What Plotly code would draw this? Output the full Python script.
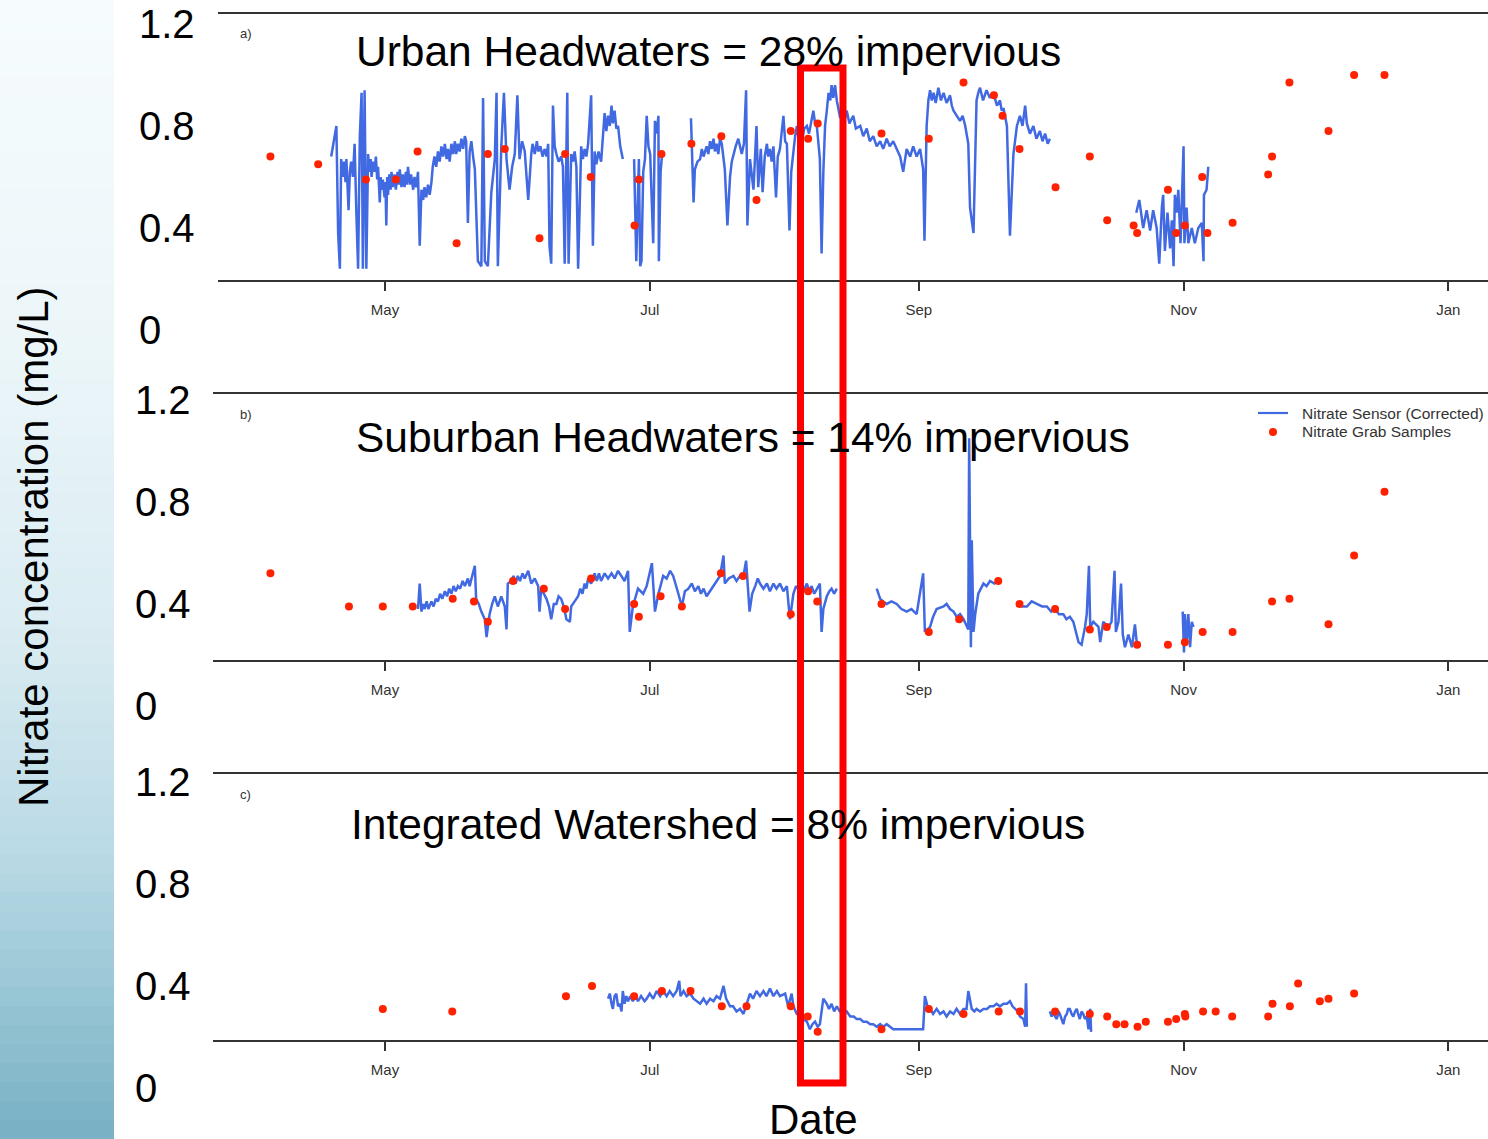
from datetime import datetime, timedelta
import plotly.graph_objects as go

# ---------------------------------------------------------------------------
# Data: day of year (2014) and nitrate concentration (mg/L)
# ---------------------------------------------------------------------------
tick_dates = ["2014-05-01", "2014-07-01", "2014-09-01", "2014-11-01", "2015-01-01"]
tick_labels = ["May", "Jul", "Sep", "Nov", "Jan"]
y_labels = [1.2, 0.8, 0.4, 0]
panel_titles = ["Urban Headwaters = 28% impervious",
                "Suburban Headwaters = 14% impervious",
                "Integrated Watershed = 8% impervious"]
panel_letters = ["a)", "b)", "c)"]

# grab samples
urban_grab_doy = [94.6, 105.6, 116.6, 123.5, 128.5, 137.5, 144.7, 148.6, 156.6, 162.5, 168.4,
                  178.5, 179.5, 184.7, 191.6, 198.5, 206.6, 214.5, 218.5, 220.7, 235.4, 246.3,
                  254.3, 261.3, 263.3, 267.2, 275.5, 283.4, 287.4, 293.5, 294.3, 301.4, 303.3,
                  305.3, 309.3, 310.5, 316.3, 324.5, 325.4, 329.4, 338.4, 344.3, 351.3]
urban_grab_no3 = [0.68, 0.65, 0.59, 0.59, 0.70, 0.34, 0.69, 0.71, 0.36, 0.69, 0.60,
                  0.41, 0.59, 0.69, 0.73, 0.76, 0.51, 0.78, 0.75, 0.81, 0.77, 0.75,
                  0.97, 0.92, 0.84, 0.71, 0.56, 0.68, 0.43, 0.41, 0.38, 0.55, 0.38,
                  0.41, 0.60, 0.38, 0.42, 0.61, 0.68, 0.97, 0.78, 1.00, 1.00]

sub_grab_doy = [94.6, 112.7, 120.5, 127.4, 136.6, 141.5, 144.7, 150.5, 157.6, 162.5, 168.5,
                178.4, 179.5, 184.5, 189.4, 198.4, 203.5, 214.5, 218.5, 220.6, 235.4, 246.3,
                253.3, 262.3, 267.2, 275.4, 283.4, 287.3, 294.3, 301.4, 305.3, 309.4, 316.3,
                325.4, 329.4, 338.4, 344.3, 351.3]
sub_grab_no3 = [0.52, 0.39, 0.39, 0.39, 0.42, 0.41, 0.33, 0.49, 0.46, 0.38, 0.50,
                0.40, 0.35, 0.43, 0.39, 0.52, 0.51, 0.36, 0.45, 0.41, 0.40, 0.29,
                0.34, 0.49, 0.40, 0.38, 0.30, 0.31, 0.24, 0.24, 0.25, 0.29, 0.29,
                0.41, 0.42, 0.32, 0.59, 0.84]

int_grab_doy = [120.5, 136.5, 162.7, 168.7, 178.4, 184.8, 191.4, 198.6, 204.3, 214.5, 218.4,
                220.7, 235.4, 246.3, 254.3, 262.4, 267.3, 275.4, 283.4, 287.4, 289.5, 291.4,
                294.4, 296.3, 301.4, 303.3, 305.3, 305.4, 309.5, 312.4, 316.2, 324.5, 325.5,
                329.5, 331.4, 336.4, 338.4, 344.3]
int_grab_no3 = [0.31, 0.30, 0.36, 0.40, 0.36, 0.38, 0.38, 0.32, 0.32, 0.32, 0.28,
                0.22, 0.23, 0.31, 0.29, 0.30, 0.30, 0.30, 0.29, 0.28, 0.25, 0.25,
                0.24, 0.26, 0.26, 0.27, 0.29, 0.28, 0.30, 0.30, 0.28, 0.28, 0.33,
                0.32, 0.41, 0.34, 0.35, 0.37]

# corrected sensor records as (doy, mg/L); None marks a data gap
urban_sensor = [
    (108.6, 0.68), (109.4, 0.77), (109.8, 0.80), (110.2, 0.38), (110.6, 0.24), (110.9, 0.67),
    (111.3, 0.60), (111.6, 0.66), (111.9, 0.58), (112.1, 0.67), (112.6, 0.47), (112.9, 0.62),
    (113.2, 0.66), (113.6, 0.60), (114.0, 0.73), (114.4, 0.46), (114.8, 0.24), (115.2, 0.76),
    (115.6, 0.93), (115.9, 0.24), (116.3, 0.94), (116.7, 0.24), (117.1, 0.69), (117.4, 0.62),
    (117.7, 0.67), (117.9, 0.60), (118.3, 0.66), (118.6, 0.62), (118.9, 0.68), (119.2, 0.59),
    (119.4, 0.64), (119.8, 0.50), (120.0, 0.60), (120.2, 0.55), (120.5, 0.59), (120.9, 0.52),
    (121.1, 0.58), (121.3, 0.41), (121.5, 0.60), (121.7, 0.53), (122.0, 0.61), (122.3, 0.55),
    (122.5, 0.62), (122.8, 0.56), (123.2, 0.61), (123.5, 0.55), (123.9, 0.62), (124.2, 0.57),
    (124.4, 0.63), (124.8, 0.56), (125.1, 0.61), (125.5, 0.56), (125.8, 0.62), (126.0, 0.57),
    (126.3, 0.64), (126.7, 0.57), (127.0, 0.61), (127.5, 0.55), (127.8, 0.60), (128.2, 0.56),
    (128.6, 0.62), (129.0, 0.33), (129.4, 0.55), (129.8, 0.51), (130.1, 0.56), (130.5, 0.52),
    (130.9, 0.57), (131.3, 0.53), (131.7, 0.58), (132.0, 0.64), (132.4, 0.68), (132.8, 0.64),
    (133.2, 0.70), (133.6, 0.66), (134.0, 0.72), (134.4, 0.68), (134.8, 0.73), (135.2, 0.67),
    (135.5, 0.71), (135.9, 0.66), (136.3, 0.73), (136.7, 0.69), (137.1, 0.74), (137.4, 0.69),
    (137.8, 0.73), (138.2, 0.70), (138.6, 0.75), (139.0, 0.71), (139.4, 0.76), (139.7, 0.74),
    (140.1, 0.42), (140.5, 0.70), (140.9, 0.74), (141.3, 0.68), (141.7, 0.63), (142.4, 0.27),
    (143.2, 0.25), (143.6, 0.91), (144.0, 0.27), (144.7, 0.25), (145.5, 0.54), (146.3, 0.67),
    (146.7, 0.93), (147.0, 0.25), (147.8, 0.72), (148.4, 0.93), (149.0, 0.67), (149.7, 0.55),
    (150.3, 0.64), (150.9, 0.69), (151.5, 0.92), (152.0, 0.67), (152.6, 0.74), (153.2, 0.70),
    (154.0, 0.51), (154.7, 0.69), (155.0, 0.73), (155.5, 0.69), (156.0, 0.74), (156.3, 0.70),
    (156.8, 0.72), (157.3, 0.68), (157.8, 0.71), (158.2, 0.68), (158.6, 0.73), (158.9, 0.33),
    (159.3, 0.26), (159.7, 0.88), (160.1, 0.72), (160.5, 0.69), (161.0, 0.66), (161.6, 0.68),
    (162.0, 0.64), (162.4, 0.26), (163.0, 0.93), (163.3, 0.26), (163.9, 0.69), (164.3, 0.66),
    (164.7, 0.70), (165.1, 0.64), (165.5, 0.24), (166.2, 0.72), (166.6, 0.67), (167.0, 0.71),
    (167.4, 0.68), (167.8, 0.73), (168.5, 0.92), (168.9, 0.33), (169.3, 0.70), (169.7, 0.65),
    (170.2, 0.70), (170.8, 0.66), (171.2, 0.74), (171.6, 0.85), (172.0, 0.78), (172.4, 0.84),
    (172.8, 0.80), (173.2, 0.88), (173.5, 0.81), (173.9, 0.86), (174.3, 0.79), (174.7, 0.80),
    (175.2, 0.72), (175.8, 0.67), None,
    (178.4, 0.67), (178.9, 0.27), (179.5, 0.67), (179.8, 0.25), (180.1, 0.27), (180.5, 0.62),
    (180.9, 0.67), (181.3, 0.84), (181.7, 0.72), (182.1, 0.69), (182.8, 0.34), (183.2, 0.82),
    (183.6, 0.77), (184.0, 0.84), (184.1, 0.27), (184.5, 0.62), (184.8, 0.68), None,
    (191.5, 0.83), (192.1, 0.50), (192.4, 0.63), (193.0, 0.66), (193.6, 0.67), (194.0, 0.71),
    (194.4, 0.68), (195.1, 0.72), (195.5, 0.69), (195.9, 0.74), (196.3, 0.71), (196.7, 0.75),
    (197.0, 0.70), (197.4, 0.73), (197.8, 0.69), (198.2, 0.75), (198.6, 0.73), (199.3, 0.63),
    (199.9, 0.41), (200.5, 0.60), (200.9, 0.66), (201.3, 0.69), (201.8, 0.72), (202.4, 0.75),
    (203.2, 0.69), (203.7, 0.73), (204.2, 0.94), (204.5, 0.41), (205.1, 0.67), (205.9, 0.55),
    (206.6, 0.80), (207.0, 0.56), (207.6, 0.71), (208.0, 0.54), (208.5, 0.68), (209.0, 0.73),
    (209.3, 0.68), (209.7, 0.71), (210.1, 0.66), (210.5, 0.72), (211.1, 0.52), (211.5, 0.68),
    (212.0, 0.71), (212.8, 0.84), (213.2, 0.74), (213.6, 0.73), (214.2, 0.39), (214.6, 0.62),
    (215.1, 0.71), (215.5, 0.76), (215.9, 0.80), (216.3, 0.75), (216.6, 0.77), (217.1, 0.74),
    (217.6, 0.79), (218.2, 0.80), (218.7, 0.77), (219.2, 0.82), (219.7, 0.86), (220.1, 0.81),
    (220.5, 0.80), (221.2, 0.67), (221.6, 0.30), (222.0, 0.62), (222.4, 0.80), (222.8, 0.86),
    (223.2, 0.93), (223.6, 0.90), (223.9, 0.96), (224.3, 0.91), (224.7, 0.96), (225.1, 0.90),
    (225.5, 0.86), (225.9, 0.83), (226.2, 0.85), (226.8, 0.82), (227.4, 0.86), (228.0, 0.81),
    (228.9, 0.84), (229.5, 0.79), (230.5, 0.80), (231.2, 0.76), (232.0, 0.79), (232.7, 0.74),
    (233.5, 0.76), (234.3, 0.72), (235.1, 0.74), (235.8, 0.71), (236.6, 0.75), (237.3, 0.72),
    (238.1, 0.74), (238.9, 0.71), (239.7, 0.68), (240.4, 0.62), (241.2, 0.71), (242.0, 0.68),
    (242.7, 0.72), (243.5, 0.68), (244.3, 0.71), (245.0, 0.63), (245.3, 0.35), (245.8, 0.80),
    (246.2, 0.90), (246.6, 0.94), (247.0, 0.90), (247.4, 0.93), (247.9, 0.89), (248.5, 0.95),
    (249.1, 0.90), (249.7, 0.93), (250.4, 0.89), (251.2, 0.92), (251.6, 0.88), (252.0, 0.86),
    (252.7, 0.84), (253.5, 0.82), (254.1, 0.84), (254.7, 0.80), (255.4, 0.73), (255.8, 0.48),
    (256.6, 0.38), (257.0, 0.73), (257.3, 0.90), (257.7, 0.93), (258.1, 0.95), (258.8, 0.90),
    (259.6, 0.94), (260.4, 0.91), (261.2, 0.93), (262.0, 0.88), (262.7, 0.90), (263.1, 0.86),
    (263.5, 0.87), (264.3, 0.80), (265.0, 0.37), (265.8, 0.69), (266.6, 0.80), (267.3, 0.84),
    (267.9, 0.80), (268.5, 0.88), (268.9, 0.81), (269.6, 0.77), (270.4, 0.80), (271.1, 0.75),
    (271.9, 0.78), (272.5, 0.74), (273.1, 0.77), (273.7, 0.73), (274.2, 0.75), None,
    (294.1, 0.46), (294.8, 0.51), (295.7, 0.40), (296.5, 0.47), (297.3, 0.39), (298.0, 0.47),
    (298.8, 0.40), (299.4, 0.26), (300.0, 0.48), (300.3, 0.53), (300.7, 0.31), (301.3, 0.46),
    (301.9, 0.32), (302.3, 0.43), (302.7, 0.25), (303.0, 0.53), (303.4, 0.46), (303.8, 0.55),
    (304.3, 0.34), (305.0, 0.72), (305.2, 0.34), (305.7, 0.48), (306.1, 0.34), (306.9, 0.40),
    (307.6, 0.34), (308.4, 0.40), (309.2, 0.42), (309.6, 0.27), (309.7, 0.53), (310.3, 0.55),
    (310.7, 0.64),
]

sub_sensor = [
    (128.6, 0.38), (129.0, 0.48), (129.4, 0.37), (129.8, 0.40), (130.1, 0.38), (130.6, 0.41),
    (131.0, 0.38), (131.7, 0.41), (132.2, 0.39), (132.7, 0.42), (133.2, 0.41), (133.7, 0.44),
    (134.2, 0.42), (134.8, 0.45), (135.3, 0.43), (135.8, 0.46), (136.3, 0.44), (136.8, 0.47),
    (137.3, 0.45), (137.8, 0.47), (138.3, 0.46), (138.9, 0.49), (139.4, 0.47), (140.1, 0.50),
    (140.5, 0.47), (141.7, 0.55), (142.0, 0.42), (142.6, 0.40), (143.2, 0.37), (144.0, 0.34),
    (144.4, 0.27), (145.1, 0.36), (145.7, 0.40), (146.3, 0.43), (147.0, 0.39), (147.8, 0.43),
    (148.6, 0.39), (149.0, 0.30), (149.3, 0.48), (150.1, 0.49), (150.6, 0.51), (151.1, 0.48),
    (151.6, 0.51), (152.1, 0.49), (152.7, 0.52), (153.2, 0.50), (154.0, 0.53), (154.7, 0.48),
    (155.5, 0.50), (156.3, 0.47), (156.6, 0.37), (157.0, 0.46), (157.6, 0.44), (158.2, 0.42),
    (158.8, 0.39), (159.3, 0.34), (159.9, 0.40), (160.5, 0.40), (161.0, 0.43), (161.6, 0.42),
    (162.2, 0.39), (162.8, 0.34), (163.6, 0.33), (163.9, 0.39), (164.7, 0.41), (165.5, 0.43),
    (166.0, 0.46), (166.5, 0.44), (167.0, 0.48), (167.4, 0.46), (167.8, 0.50), (168.5, 0.48),
    (169.3, 0.52), (169.8, 0.49), (170.3, 0.52), (170.8, 0.49), (171.6, 0.52), (172.4, 0.50),
    (173.2, 0.52), (173.9, 0.50), (174.7, 0.53), (175.5, 0.51), (176.2, 0.49), (177.0, 0.53),
    (177.4, 0.29), (178.1, 0.39), (178.7, 0.43), (179.3, 0.46), (180.5, 0.44), (181.3, 0.47),
    (182.5, 0.56), (183.2, 0.37), (184.0, 0.44), (184.6, 0.48), (185.1, 0.51), (185.9, 0.50),
    (186.7, 0.53), (187.4, 0.51), (188.0, 0.47), (188.6, 0.44), (189.4, 0.39), (190.1, 0.45),
    (190.9, 0.46), (191.7, 0.48), (192.4, 0.45), (193.2, 0.47), (193.8, 0.44), (194.4, 0.46),
    (195.1, 0.43), (195.9, 0.45), (196.6, 0.47), (197.4, 0.49), (198.2, 0.51), (199.0, 0.59),
    (199.3, 0.48), (200.2, 0.50), (201.3, 0.51), (202.0, 0.49), (202.8, 0.51), (203.5, 0.50),
    (204.2, 0.57), (205.0, 0.37), (205.6, 0.44), (206.3, 0.47), (206.9, 0.50), (207.4, 0.48),
    (208.2, 0.46), (209.0, 0.48), (209.7, 0.45), (210.5, 0.48), (211.2, 0.46), (212.0, 0.48),
    (212.8, 0.45), (213.6, 0.47), (214.3, 0.34), (215.1, 0.44), (215.7, 0.47), (216.2, 0.46),
    (216.8, 0.48), (217.4, 0.45), (218.2, 0.48), (218.8, 0.45), (219.3, 0.47), (219.9, 0.44),
    (220.5, 0.46), (221.2, 0.48), (221.6, 0.29), (222.0, 0.38), (222.8, 0.43), (223.4, 0.45),
    (223.9, 0.46), (224.5, 0.44), (225.1, 0.46), None,
    (234.3, 0.46), (235.1, 0.42), (235.8, 0.41), (236.6, 0.40), (237.7, 0.41), (238.9, 0.40),
    (240.0, 0.38), (241.2, 0.37), (242.3, 0.38), (243.5, 0.36), (245.0, 0.52), (245.4, 0.29),
    (246.6, 0.31), (247.3, 0.35), (248.1, 0.38), (249.7, 0.39), (250.4, 0.40), (251.2, 0.38),
    (252.0, 0.37), (252.7, 0.35), (253.5, 0.36), (254.3, 0.34), (255.4, 0.30), (255.6, 1.05),
    (256.0, 0.23), (256.2, 0.65), (256.6, 0.29), (257.0, 0.36), (257.7, 0.44), (258.3, 0.46),
    (258.9, 0.48), (259.6, 0.47), (260.4, 0.49), (261.4, 0.48), (262.3, 0.49), None,
    (266.9, 0.40), (267.9, 0.39), (268.9, 0.39), (270.0, 0.41), (271.2, 0.40), (272.4, 0.39),
    (273.5, 0.39), (274.5, 0.37), (275.4, 0.38), (276.3, 0.36), (277.3, 0.36), (278.0, 0.34),
    (278.8, 0.35), (279.6, 0.33), (280.8, 0.25), (281.5, 0.24), (282.3, 0.31), (282.7, 0.36),
    (283.2, 0.55), (283.5, 0.31), (284.2, 0.33), (285.4, 0.31), (285.8, 0.25), (286.5, 0.33),
    (287.7, 0.31), (288.4, 0.33), (289.1, 0.53), (289.4, 0.29), (290.0, 0.33), (290.6, 0.48),
    (291.0, 0.28), (291.5, 0.23), (292.3, 0.28), (293.1, 0.23), (293.8, 0.32), (294.2, 0.25),
    None,
    (304.8, 0.37), (305.1, 0.21), (305.3, 0.36), (305.7, 0.25), (306.1, 0.36), (306.5, 0.23),
    (306.9, 0.33), (307.3, 0.31),
]

int_sensor = [
    (172.4, 0.35), (172.8, 0.37), (173.2, 0.33), (173.5, 0.31), (173.9, 0.36), (174.3, 0.37),
    (174.7, 0.32), (175.1, 0.33), (175.5, 0.30), (175.8, 0.38), (176.2, 0.33), (176.6, 0.36),
    (177.0, 0.34), (177.5, 0.36), (178.1, 0.34), (178.7, 0.36), (179.3, 0.34), (180.0, 0.36),
    (180.8, 0.34), (181.3, 0.35), (182.0, 0.37), (182.8, 0.35), (183.6, 0.38), (184.4, 0.36),
    (185.1, 0.38), (185.9, 0.36), (186.6, 0.38), (187.4, 0.36), (188.2, 0.38), (188.8, 0.42),
    (189.1, 0.36), (189.8, 0.38), (190.5, 0.36), (191.3, 0.37), (192.1, 0.35), (192.8, 0.34),
    (193.6, 0.33), (194.4, 0.35), (195.1, 0.33), (195.9, 0.35), (196.7, 0.34), (197.4, 0.36),
    (198.2, 0.35), (199.0, 0.40), (199.6, 0.35), (200.5, 0.32), (201.2, 0.32), (202.0, 0.30),
    (202.8, 0.31), (203.6, 0.29), (204.3, 0.33), (205.1, 0.37), (205.8, 0.35), (206.6, 0.38),
    (207.4, 0.36), (208.2, 0.38), (208.9, 0.36), (209.7, 0.39), (210.5, 0.36), (211.3, 0.38),
    (212.0, 0.36), (213.2, 0.37), (213.9, 0.32), (214.7, 0.37), (215.1, 0.32), (215.9, 0.29),
    (216.6, 0.29), (217.4, 0.27), (218.2, 0.26), (218.9, 0.23), (219.5, 0.25), (220.1, 0.26),
    (220.7, 0.24), (221.2, 0.25), (222.0, 0.35), (222.8, 0.33), (223.3, 0.31), (223.9, 0.33),
    (224.5, 0.30), (225.1, 0.32), (225.8, 0.30), (226.6, 0.29), (227.4, 0.30), (228.2, 0.28),
    (229.0, 0.28), (229.7, 0.27), (230.5, 0.27), (231.2, 0.26), (232.0, 0.26), (232.8, 0.25),
    (233.5, 0.25), (234.3, 0.24), (235.1, 0.25), (235.8, 0.24), (236.6, 0.25), (237.3, 0.24),
    (238.1, 0.23), (239.6, 0.23), (241.2, 0.23), (242.4, 0.23), (243.5, 0.23), (245.0, 0.23),
    (245.4, 0.36), (246.0, 0.32), (246.6, 0.31), (247.3, 0.29), (248.1, 0.31), (248.9, 0.29),
    (249.7, 0.30), (250.4, 0.28), (251.2, 0.30), (252.0, 0.29), (252.7, 0.31), (253.5, 0.29),
    (254.3, 0.31), (255.0, 0.31), (255.4, 0.38), (256.2, 0.31), (256.8, 0.30), (257.3, 0.31),
    (258.1, 0.30), (258.9, 0.31), (259.7, 0.31), (260.4, 0.32), (261.2, 0.32), (261.9, 0.33),
    (262.7, 0.32), (263.5, 0.33), (264.3, 0.33), (265.0, 0.34), (265.6, 0.32), (266.2, 0.31),
    (266.8, 0.30), (267.3, 0.28), (268.1, 0.27), (268.5, 0.24), (268.7, 0.41), (268.9, 0.24),
    None,
    (274.2, 0.30), (274.6, 0.28), (275.0, 0.30), (275.4, 0.28), (275.8, 0.27), (276.2, 0.30),
    (276.5, 0.29), (276.9, 0.27), (277.3, 0.25), (277.7, 0.28), (278.1, 0.29), (278.4, 0.31),
    (278.8, 0.31), (279.2, 0.29), (279.6, 0.28), (280.0, 0.30), (280.4, 0.31), (280.7, 0.29),
    (281.1, 0.27), (281.5, 0.30), (281.9, 0.29), (282.3, 0.27), (282.7, 0.28), (283.1, 0.23),
    (283.5, 0.31), (283.7, 0.22),
]

# ---------------------------------------------------------------------------
# Page geometry (pixels) and styling
# ---------------------------------------------------------------------------
W, H = 1488, 1139
FONT = "Liberation Sans, Arial, Helvetica, sans-serif"
SENSOR_COLOR = "#4169e1"
GRAB_COLOR = "#ff2200"
AXIS_COLOR = "#333333"

BASE = datetime(2013, 12, 31)


def to_dt(doy):
    return None if doy is None else BASE + timedelta(days=doy)


def split(series):
    xs, ys = [], []
    for item in series:
        if item is None:
            xs.append(None)
            ys.append(None)
        else:
            xs.append(to_dt(item[0]))
            ys.append(item[1])
    return xs, ys


def px(x):
    return x / W


def py(y):
    return 1 - y / H


# per panel: left edge px, top px, bottom px, x-range (doy), y-range, label x px, title x/y px
panels = [
    dict(left=218, top=14, bottom=280, xr=(82.52, 375.15), yr=(0.196, 1.239),
         lab_x=137, title_x=354, title_y=52, letter_y=34,
         sensor=urban_sensor, gdoy=urban_grab_doy, gno3=urban_grab_no3),
    dict(left=213, top=394, bottom=660, xr=(81.37, 375.15), yr=(0.180, 1.224),
         lab_x=133, title_x=354, title_y=437, letter_y=414,
         sensor=sub_sensor, gdoy=sub_grab_doy, gno3=sub_grab_no3),
    dict(left=213, top=774, bottom=1040, xr=(81.37, 375.15), yr=(0.188, 1.231),
         lab_x=133, title_x=349, title_y=824, letter_y=795,
         sensor=int_sensor, gdoy=int_grab_doy, gno3=int_grab_no3),
]

fig = go.Figure()
layout = dict(
    width=W, height=H,
    margin=dict(l=0, r=0, t=0, b=0),
    paper_bgcolor="white", plot_bgcolor="white",
    font=dict(family=FONT, color="black"),
    showlegend=False,
)

annotations = []
shapes = []

# soft gradient strip along the left edge of the slide
stops = [(0.0, (246, 252, 253)), (0.30, (236, 246, 249)), (0.55, (218, 236, 242)),
         (0.75, (186, 218, 229)), (0.88, (150, 197, 212)), (1.0, (120, 176, 195))]
n_bands = 60
for i in range(n_bands):
    t = (i + 0.5) / n_bands
    for (t0, c0), (t1, c1) in zip(stops[:-1], stops[1:]):
        if t0 <= t <= t1:
            f = (t - t0) / (t1 - t0)
            rgb = tuple(round(a + (b - a) * f) for a, b in zip(c0, c1))
            break
    shapes.append(dict(type="rect", xref="paper", yref="paper", layer="below",
                       x0=0, x1=px(114), y0=max(0, 1 - (i + 1) / n_bands - 0.002),
                       y1=1 - i / n_bands,
                       line=dict(width=0), fillcolor="rgb(%d,%d,%d)" % rgb))

for k, p in enumerate(panels):
    sfx = "" if k == 0 else str(k + 1)
    xa, ya = "x" + sfx, "y" + sfx
    dom = [py(p["bottom"]), py(p["top"])]
    sx, sy = split(p["sensor"])
    fig.add_trace(go.Scatter(
        x=sx, y=sy, mode="lines", xaxis=xa, yaxis=ya,
        line=dict(color=SENSOR_COLOR, width=2.5), connectgaps=False,
        name="Nitrate Sensor (Corrected)"))
    fig.add_trace(go.Scatter(
        x=[to_dt(d) for d in p["gdoy"]], y=p["gno3"], mode="markers",
        xaxis=xa, yaxis=ya, marker=dict(color=GRAB_COLOR, size=8),
        name="Nitrate Grab Samples"))

    layout["xaxis" + sfx] = dict(
        domain=[px(p["left"]), 1], anchor=ya, type="date",
        range=[to_dt(p["xr"][0]), to_dt(p["xr"][1])],
        tickmode="array", tickvals=tick_dates, ticktext=tick_labels,
        showline=True, mirror=True, linecolor=AXIS_COLOR, linewidth=2,
        ticks="outside", ticklen=9, tickwidth=1.5, tickcolor=AXIS_COLOR,
        ticklabelstandoff=6,
        tickfont=dict(size=15, color=AXIS_COLOR, family=FONT),
        showgrid=False, zeroline=False,
    )
    layout["yaxis" + sfx] = dict(
        domain=dom, anchor=xa,
        range=list(p["yr"]), visible=False, showgrid=False, zeroline=False,
    )

    # concentration labels, placed through the panel's own value scale
    # (the lowest one sits below the plotted range, so paper coordinates are used)
    r0, r1 = p["yr"]
    for v in y_labels:
        yp = dom[0] + (v - r0) / (r1 - r0) * (dom[1] - dom[0])
        annotations.append(dict(
            text="0" if v == 0 else "%.1f" % v, xref="paper", yref="paper",
            x=px(p["lab_x"]), y=yp, xanchor="left", yanchor="middle",
            showarrow=False, font=dict(size=40, color="black", family=FONT)))

    annotations.append(dict(
        text=panel_titles[k], xref="paper", yref="paper",
        x=px(p["title_x"]), y=py(p["title_y"]), xanchor="left", yanchor="middle",
        showarrow=False, font=dict(size=42.5, color="black", family=FONT)))
    annotations.append(dict(
        text=panel_letters[k], xref="paper", yref="paper",
        x=px(238), y=py(p["letter_y"]), xanchor="left", yanchor="middle",
        showarrow=False, font=dict(size=13, color=AXIS_COLOR, family=FONT)))

# key for the two series, drawn in the suburban panel
shapes.append(dict(type="line", xref="paper", yref="paper",
                   x0=px(1258), x1=px(1288), y0=py(413), y1=py(413),
                   line=dict(color=SENSOR_COLOR, width=2.2)))
shapes.append(dict(type="circle", xref="paper", yref="paper",
                   x0=px(1269), x1=px(1277), y0=py(436), y1=py(428),
                   line=dict(width=0), fillcolor=GRAB_COLOR))
for label, yy in [("Nitrate Sensor (Corrected)", 413), ("Nitrate Grab Samples", 432)]:
    annotations.append(dict(
        text=label, xref="paper", yref="paper", x=px(1300), y=py(yy),
        xanchor="left", yanchor="middle", showarrow=False,
        font=dict(size=15.5, color=AXIS_COLOR, family=FONT)))

# axis titles
annotations.append(dict(
    text="Nitrate concentration (mg/L)", xref="paper", yref="paper",
    x=px(33), y=py(547), textangle=-90, xanchor="center", yanchor="middle",
    showarrow=False, font=dict(size=42, color="black", family=FONT)))
annotations.append(dict(
    text="Date", xref="paper", yref="paper", x=px(813), y=py(1119),
    xanchor="center", yanchor="middle", showarrow=False,
    font=dict(size=42, color="black", family=FONT)))

# highlight box around the mid-August event
shapes.append(dict(type="rect", xref="paper", yref="paper", layer="above",
                   x0=px(800.5), x1=px(843), y0=py(1083), y1=py(68),
                   line=dict(color="#ff0000", width=7), fillcolor="rgba(0,0,0,0)"))

layout["annotations"] = annotations
layout["shapes"] = shapes
fig.update_layout(**layout)

fig.write_html("out.html")
